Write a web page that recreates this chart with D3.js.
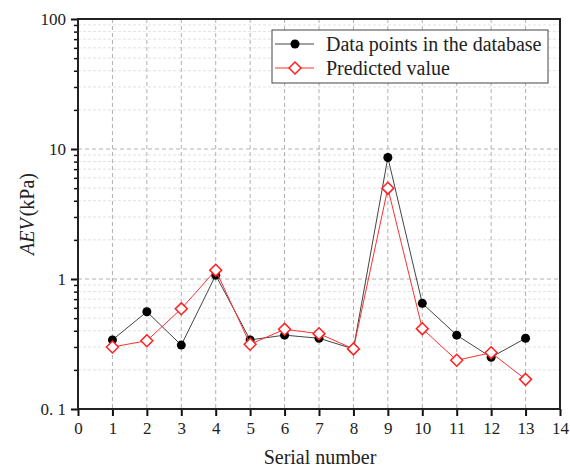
<!DOCTYPE html>
<html>
<head>
<meta charset="utf-8">
<script src="https://cdn.jsdelivr.net/npm/d3@7"></script>
<style>
  html, body { margin: 0; padding: 0; background: #fff; }
  svg text { font-family: "Liberation Serif", "Times New Roman", serif; fill: #222; }
</style>
</head>
<body>
<svg id="chart" width="570" height="469"></svg>
<script>
// Serial numbers of the samples
const serial = [1, 2, 3, 4, 5, 6, 7, 8, 9, 10, 11, 12, 13];
// Air-entry value (kPa) from the database
const measured = [0.34, 0.56, 0.31, 1.07, 0.34, 0.37, 0.35, 0.29, 8.6, 0.65, 0.37, 0.25, 0.35];
// Predicted air-entry value (kPa)
const predicted = [0.30, 0.335, 0.59, 1.17, 0.315, 0.41, 0.38, 0.29, 5.0, 0.415, 0.237, 0.271, 0.169];
// Axis ticks
const xTicks = [0, 1, 2, 3, 4, 5, 6, 7, 8, 9, 10, 11, 12, 13, 14];
const yTicks = [0.1, 1, 10, 100];
const yTickLabels = ["0. 1", "1", "10", "100"];
const seriesNames = ["Data points in the database", "Predicted value"];

const svg = d3.select("#chart");
const plot = { left: 78, right: 560, top: 19, bottom: 409 };

const x = d3.scaleLinear().domain([0, 14]).range([plot.left, plot.right]);
const y = d3.scaleLog().domain([0.1, 100]).range([plot.bottom, plot.top]);

// Minor values inside each decade
const minor = [];
[0.1, 1, 10].forEach(d => { for (let k = 2; k <= 9; k++) minor.push(d * k); });

const grid = svg.append("g");
// minor horizontal grid
grid.selectAll("line.minor").data(minor).join("line")
  .attr("x1", plot.left).attr("x2", plot.right)
  .attr("y1", d => y(d)).attr("y2", d => y(d))
  .attr("stroke", "#e2e2e2").attr("stroke-width", 1).attr("stroke-dasharray", "3,2");
// major horizontal grid
grid.selectAll("line.major").data([1, 10]).join("line")
  .attr("x1", plot.left).attr("x2", plot.right)
  .attr("y1", d => y(d)).attr("y2", d => y(d))
  .attr("stroke", "#b0b0b0").attr("stroke-width", 1).attr("stroke-dasharray", "4,3");
// vertical grid
grid.selectAll("line.v").data(xTicks.slice(1, -1)).join("line")
  .attr("x1", d => x(d)).attr("x2", d => x(d))
  .attr("y1", plot.top).attr("y2", plot.bottom)
  .attr("stroke", "#b0b0b0").attr("stroke-width", 1).attr("stroke-dasharray", "4,3");

// Axes
const xAxis = d3.axisBottom(x).tickValues(xTicks).tickSize(7).tickPadding(6).tickFormat(d3.format("d"));
svg.append("g").attr("transform", `translate(0,${plot.bottom})`).call(xAxis)
  .call(g => g.select(".domain").remove())
  .call(g => g.selectAll("line").attr("stroke", "#111").attr("stroke-width", 2))
  .call(g => g.selectAll("text").style("font-size", "17px").style("font-family", "Liberation Serif").attr("fill", "#333"));

const yAxis = d3.axisLeft(y).tickValues(yTicks).tickSize(7).tickPadding(5)
  .tickFormat((d, i) => yTickLabels[i]);
svg.append("g").attr("transform", `translate(${plot.left},0)`).call(yAxis)
  .call(g => g.select(".domain").remove())
  .call(g => g.selectAll("line").attr("stroke", "#111").attr("stroke-width", 2))
  .call(g => g.selectAll("text").style("font-size", "17px").style("font-family", "Liberation Serif").attr("fill", "#333"));

const yMinor = d3.axisLeft(y).tickValues(minor).tickSize(4).tickFormat("");
svg.append("g").attr("transform", `translate(${plot.left},0)`).call(yMinor)
  .call(g => g.select(".domain").remove())
  .call(g => g.selectAll("line").attr("stroke", "#111").attr("stroke-width", 1.5));

// Frame
svg.append("rect").attr("x", plot.left).attr("y", plot.top)
  .attr("width", plot.right - plot.left).attr("height", plot.bottom - plot.top)
  .attr("fill", "none").attr("stroke", "#222").attr("stroke-width", 2);

// Axis titles
svg.append("text").attr("x", (plot.left + plot.right) / 2 + 1).attr("y", 464).attr("text-anchor", "middle")
  .style("font-size", "20px").text("Serial number");
const yt = svg.append("text").attr("transform", `translate(34,${(plot.top + plot.bottom) / 2}) rotate(-90)`)
  .attr("text-anchor", "middle").style("font-size", "20px");
yt.append("tspan").style("font-style", "italic").text("AEV");
yt.append("tspan").attr("dx", 2).text("(kPa)");

// Series
const line = d3.line().x(d => x(d[0])).y(d => y(d[1]));
const mData = serial.map((s, i) => [s, measured[i]]);
const pData = serial.map((s, i) => [s, predicted[i]]);

svg.append("path").datum(mData).attr("d", line).attr("fill", "none").attr("stroke", "#444").attr("stroke-width", 1);
svg.selectAll("circle.m").data(mData).join("circle")
  .attr("cx", d => x(d[0])).attr("cy", d => y(d[1])).attr("r", 4.5).attr("fill", "#000");

const diamond = d3.symbol().type(d3.symbolDiamond2).size(90);
svg.append("path").datum(pData).attr("d", line).attr("fill", "none").attr("stroke", "#ff3030").attr("stroke-width", 1);
svg.selectAll("path.p").data(pData).join("path")
  .attr("d", diamond).attr("transform", d => `translate(${x(d[0])},${y(d[1])})`)
  .attr("fill", "#fff").attr("stroke", "#ff2020").attr("stroke-width", 1.5);

// Legend
const lg = svg.append("g");
lg.append("rect").attr("x", 272).attr("y", 30).attr("width", 276).attr("height", 53)
  .attr("fill", "#fff").attr("stroke", "#444").attr("stroke-width", 1);
const rows = [44, 68];
lg.append("line").attr("x1", 275).attr("x2", 314).attr("y1", rows[0]).attr("y2", rows[0]).attr("stroke", "#444");
lg.append("circle").attr("cx", 295).attr("cy", rows[0]).attr("r", 4.5).attr("fill", "#000");
lg.append("line").attr("x1", 275).attr("x2", 314).attr("y1", rows[1]).attr("y2", rows[1]).attr("stroke", "#ff3030");
lg.append("path").attr("d", diamond).attr("transform", `translate(295,${rows[1]})`)
  .attr("fill", "#fff").attr("stroke", "#ff2020").attr("stroke-width", 1.5);
seriesNames.forEach((n, i) => {
  lg.append("text").attr("x", 326).attr("y", rows[i] + 7).style("font-size", "20px").text(n);
});
</script>
</body>
</html>
